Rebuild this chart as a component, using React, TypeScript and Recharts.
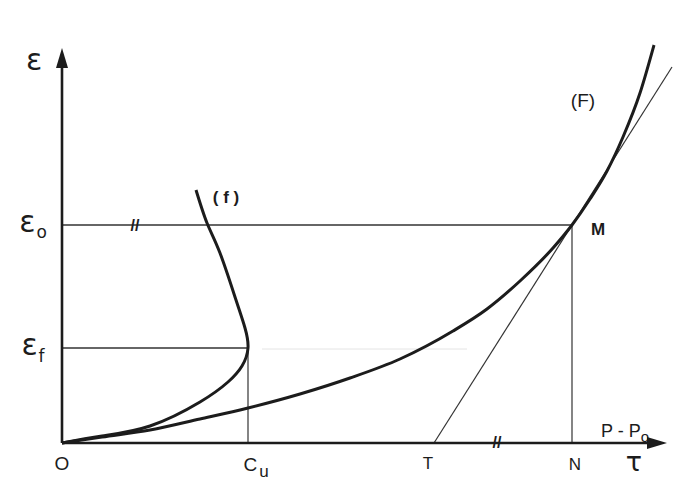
import { ComposedChart, Line, XAxis, YAxis, ReferenceDot } from 'recharts';

// coordinates: x = distance along τ axis, y = height along ε axis (origin O = 0,0)
const curveF = [
  { x: 0, y: 0 }, { x: 40, y: 6 }, { x: 88, y: 13 }, { x: 138, y: 24 }, { x: 186, y: 35 },
  { x: 238, y: 49 }, { x: 288, y: 65 }, { x: 338, y: 84 }, { x: 391, y: 112 },
  { x: 425, y: 134 }, { x: 458, y: 162 }, { x: 491, y: 195 }, { x: 510, y: 218 },
  { x: 528, y: 244 }, { x: 545, y: 272 }, { x: 561, y: 306 }, { x: 578, y: 350 }, { x: 592, y: 398 },
];
const curvef = [
  { x: 0, y: 0 }, { x: 40, y: 7 }, { x: 88, y: 17 }, { x: 138, y: 41 },
  { x: 166, y: 61 }, { x: 180, y: 77 }, { x: 186, y: 95 }, { x: 183, y: 115 },
  { x: 174, y: 143 }, { x: 158, y: 190 }, { x: 145, y: 220 }, { x: 134, y: 253 },
];
const tangentT = [{ x: 372, y: 0 }, { x: 610, y: 376 }];
const eps0Line = [{ x: 0, y: 218 }, { x: 510, y: 218 }];
const epsfLine = [{ x: 0, y: 95 }, { x: 186, y: 95 }];
const epsfFaint = [{ x: 200, y: 94 }, { x: 405, y: 94 }];
const cuLine = [{ x: 186, y: 0 }, { x: 186, y: 95 }];
const nLine = [{ x: 510, y: 0 }, { x: 510, y: 218 }];
const yAxisLine = [{ x: 0, y: 0 }, { x: 0, y: 385 }];
const xAxisLine = [{ x: 0, y: 0 }, { x: 595, y: 0 }];

const ink = '#1c1c1c';
const sans = 'Liberation Sans, Arial, sans-serif';
const greek = 'DejaVu Sans, sans-serif';

function txt(content: React.ReactNode, size: number, family = sans, weight = 'normal') {
  return (p: any) => (
    <text x={p.cx} y={p.cy} fontSize={size} fontFamily={family} fontWeight={weight} fill={ink} textAnchor="middle">
      {content}
    </text>
  );
}

const arrowUp = (p: any) => (
  <polygon points={`${p.cx},${p.cy} ${p.cx - 6},${p.cy + 20} ${p.cx + 6},${p.cy + 20}`} fill={ink} />
);
const arrowRight = (p: any) => (
  <polygon points={`${p.cx},${p.cy} ${p.cx - 20},${p.cy - 6} ${p.cx - 20},${p.cy + 6}`} fill={ink} />
);

function seg(key: string, data: { x: number; y: number }[], width: number, color = ink) {
  return (
    <Line
      key={key}
      data={data}
      dataKey="y"
      type="linear"
      stroke={color}
      strokeWidth={width}
      dot={false}
      activeDot={false}
      isAnimationActive={false}
    />
  );
}

export default function App() {
  return (
    <div style={{ position: 'absolute', left: 0, top: 0, background: '#fff' }}>
      <ComposedChart width={679} height={488} margin={{ top: 0, right: 0, bottom: 0, left: 0 }}>
        <XAxis type="number" dataKey="x" domain={[-62, 617]} hide allowDataOverflow />
        <YAxis type="number" domain={[-45, 443]} hide allowDataOverflow />
        {seg('epsfFaint', epsfFaint, 1, '#e4e4e4')}
        {seg('eps0', eps0Line, 1.3, '#333')}
        {seg('epsf', epsfLine, 1.3, '#333')}
        {seg('cu', cuLine, 1.2, '#333')}
        {seg('n', nLine, 1.2, '#333')}
        {seg('tangent', tangentT, 1.2, '#333')}
        {seg('yaxis', yAxisLine, 2.6)}
        {seg('xaxis', xAxisLine, 2.6)}
        <Line data={curveF} dataKey="y" type="monotone" stroke={ink} strokeWidth={3} dot={false} activeDot={false} isAnimationActive={false} />
        <Line data={curvef} dataKey="y" type="natural" stroke={ink} strokeWidth={3} dot={false} activeDot={false} isAnimationActive={false} />
        <ReferenceDot x={0} y={395} shape={arrowUp} />
        <ReferenceDot x={605} y={0} shape={arrowRight} />

        <ReferenceDot x={-28} y={373} shape={txt('ε', 30, greek)} />
        <ReferenceDot x={-29} y={211} shape={txt(<>ε<tspan fontSize={17} dx={1} dy={6}>o</tspan></>, 30, greek)} />
        <ReferenceDot x={-29} y={88} shape={txt(<>ε<tspan fontSize={17} dx={1} dy={7}>f</tspan></>, 30, greek)} />
        <ReferenceDot x={0} y={-27} shape={txt('O', 19)} />
        <ReferenceDot x={194} y={-28} shape={txt(<>C<tspan fontSize={17} dx={2} dy={6}>u</tspan></>, 19)} />
        <ReferenceDot x={366} y={-26} shape={txt('T', 17)} />
        <ReferenceDot x={513} y={-27} shape={txt('N', 17)} />
        <ReferenceDot x={572} y={-28} shape={txt('τ', 27, greek)} />
        <ReferenceDot x={563} y={6} shape={txt(<>P - P<tspan fontSize={15} dy={5}>o</tspan></>, 18)} />
        <ReferenceDot x={521} y={336} shape={txt('(F)', 19)} />
        <ReferenceDot x={164} y={240} shape={txt('( f )', 17, sans, 'bold')} />
        <ReferenceDot x={536} y={208} shape={txt('M', 17, sans, 'bold')} />
        <ReferenceDot x={73} y={212} shape={txt('//', 16, sans, 'bold')} />
        <ReferenceDot x={435} y={-5} shape={txt('//', 16, sans, 'bold')} />
      </ComposedChart>
    </div>
  );
}
